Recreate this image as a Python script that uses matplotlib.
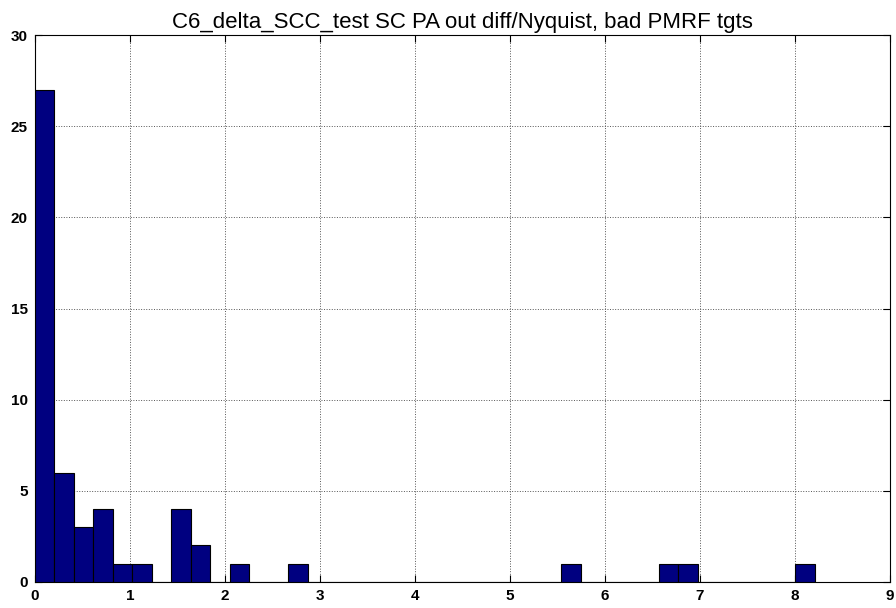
import matplotlib
matplotlib.use("Agg")
import matplotlib.pyplot as plt
import numpy as np

# histogram counts, 40 bins from 0 to the data max
counts = [27, 6, 3, 4, 1, 1, 0, 4, 2, 0,
          1, 0, 0, 1, 0, 0, 0, 0, 0, 0,
          0, 0, 0, 0, 0, 0, 0, 1, 0, 0,
          0, 0, 1, 1, 0, 0, 0, 0, 0, 1]
data_min = 0.0
data_max = 8.21
xticks = [0, 1, 2, 3, 4, 5, 6, 7, 8, 9]
yticks = [0, 5, 10, 15, 20, 25, 30]
title = "C6_delta_SCC_test SC PA out diff/Nyquist, bad PMRF tgts"

plt.rcParams['font.family'] = ['Liberation Sans', 'DejaVu Sans']

fig = plt.figure(figsize=(8.96, 6.08), dpi=100)
ax = fig.add_axes([0.039, 0.043, 0.954, 0.899])

edges = np.linspace(data_min, data_max, len(counts) + 1)
widths = np.diff(edges)
ax.bar(edges[:-1], counts, width=widths, align='edge',
       color='#000080', edgecolor='black', linewidth=0.8, zorder=3)

ax.set_xlim(0, 9)
ax.set_ylim(0, 30)
ax.set_xticks(xticks)
ax.set_yticks(yticks)
ax.grid(True, linestyle=':', color='#555555', linewidth=0.7)
ax.tick_params(direction='in', top=True, right=True, length=5,
               labelsize=11, pad=5)
for lab in ax.get_xticklabels() + ax.get_yticklabels():
    lab.set_fontweight('bold')
for s in ax.spines.values():
    s.set_linewidth(0.8)
ax.set_title(title, fontsize=16, pad=5)

fig.savefig("out.png", dpi=100)
